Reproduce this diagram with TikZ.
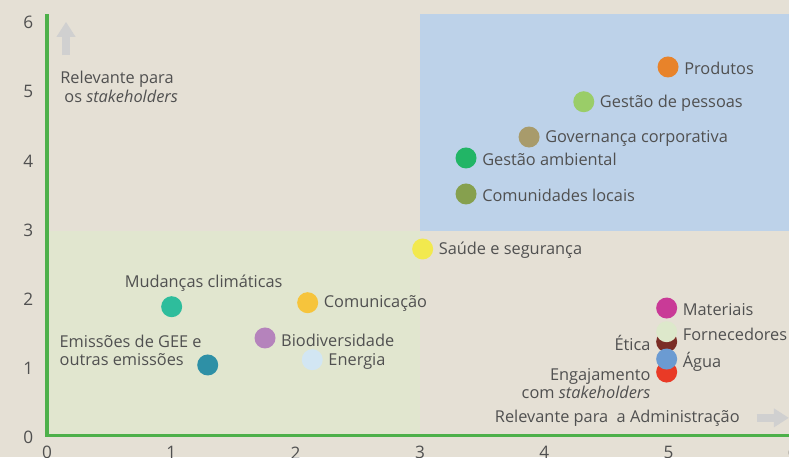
\documentclass[tikz,border=0pt]{standalone}
\usepackage{fontspec}
\setmainfont{Open Sans}
\usetikzlibrary{arrows.meta, positioning}
\definecolor{bgbeige}{HTML}{E5E0D5}
\definecolor{zonegreen}{HTML}{E1E6CF}
\definecolor{zoneblue}{HTML}{BDD2E9}
\definecolor{axisgreen}{HTML}{4DB04A}
\definecolor{hintgray}{HTML}{D0D0D0}
\definecolor{txtgray}{HTML}{505050}
% dot colours
\definecolor{cprod}{HTML}{E8832A}
\definecolor{cgpes}{HTML}{9ACD68}
\definecolor{cgov}{HTML}{A89B6B}
\definecolor{cgamb}{HTML}{22B566}
\definecolor{ccomloc}{HTML}{86A04E}
\definecolor{csaude}{HTML}{F2E94E}
\definecolor{cmat}{HTML}{C93A97}
\definecolor{cetica}{HTML}{7B2D26}
\definecolor{cforn}{HTML}{DDE8CB}
\definecolor{ceng}{HTML}{E93A26}
\definecolor{cagua}{HTML}{6B9BD2}
\definecolor{cmud}{HTML}{2EBD9C}
\definecolor{ccomun}{HTML}{F6C43C}
\definecolor{cbio}{HTML}{B583BC}
\definecolor{cener}{HTML}{D2E6F3}
\definecolor{cemis}{HTML}{2E90A6}
\tikzset{
  dot/.style={
    circle, inner sep=0pt, minimum size=0.42cm
  },
  lbl/.style={
    inner sep=0pt, text=txtgray, font=\fontsize{9.3}{10.3}\selectfont
  },
  ticklbl/.style={
    inner sep=0pt, text=txtgray, font=\fontsize{9.8}{11}\selectfont
  },
  hint/.style={
    -{Triangle[width=0.36cm,length=0.3cm]}, line width=0.15cm, draw=hintgray
  }
}

\begin{document}
\begin{tikzpicture}[x=2.486cm, y=1.384cm]
      % Background and zones
      \fill[bgbeige] (-0.378,-0.318) rectangle (5.969,6.286);
      \useasboundingbox (-0.378,-0.318) rectangle (5.969,6.286);
      \fill[zonegreen] (0,0) rectangle (3,2.95);
      \fill[zoneblue] (3,2.95) rectangle (6.2,6.08);

      % Axes
      \draw[axisgreen, line width=0.08cm] (0,6.08) -- (0,-0.02);
      \draw[axisgreen, line width=0.06cm] (-0.015,0) -- (6.2,0);
      \foreach \k in {0,...,6} {
        \node[ticklbl] (ytick\k) at (-0.15,\k-0.04) {\k};
        \node[ticklbl] (xtick\k) at (\k,-0.257) {\k};
      }

      % Axis hints
      \coordinate (upfrom) at (0.153,5.49);
      \coordinate (upto) at (0.153,5.97);
      \draw[hint] (upfrom) -- (upto);
      \node[lbl, anchor=west, align=left] (stakelbl) at (0.105,5.03)
        {Relevante para\\\hspace*{0.08cm}os \textit{stakeholders}};
      \coordinate (rightfrom) at (5.71,0.248);
      \coordinate (rightto) at (5.968,0.248);
      \draw[hint] (rightfrom) -- (rightto);
      \node[lbl, anchor=east] (admlbl) at (5.575,0.245)
        {Relevante para\ \ a Administração};

      % Upper right
      \node[dot, fill=cprod] (prod) at (4.996,5.318) {};
      \node[lbl, right=0.1cm of prod, yshift=-0.03cm] (prodlbl) {Produtos};
      \node[dot, fill=cgpes] (gpes) at (4.318,4.816) {};
      \node[lbl, right=0.1cm of gpes, yshift=-0.03cm] (gpeslbl) {Gestão de pessoas};
      \node[dot, fill=cgov] (gov) at (3.878,4.306) {};
      \node[lbl, right=0.1cm of gov, yshift=-0.03cm] (govlbl) {Governança corporativa};
      \node[dot, fill=cgamb] (gamb) at (3.371,4.003) {};
      \node[lbl, right=0.1cm of gamb, yshift=-0.03cm] (gamblbl) {Gestão ambiental};
      \node[dot, fill=ccomloc] (comloc) at (3.371,3.483) {};
      \node[lbl, right=0.1cm of comloc, yshift=-0.03cm] (comloclbl) {Comunidades locais};
      \node[dot, fill=csaude] (saude) at (3.022,2.688) {};
      \node[lbl, right=0.1cm of saude, yshift=-0.03cm] (saudelbl) {Saúde e segurança};

      % Lower right
      \node[dot, fill=cmat] (mat) at (4.985,1.835) {};
      \node[lbl, right=0.1cm of mat, yshift=-0.03cm] (matlbl) {Materiais};
      \node[dot, fill=cetica] (etica) at (4.985,1.348) {};
      \node[lbl, left=0.1cm of etica, yshift=-0.03cm] (eticalbl) {Ética};
      \node[dot, fill=cforn] (forn) at (4.985,1.493) {};
      \node[lbl, right=0.1cm of forn, yshift=-0.06cm] (fornlbl) {Fornecedores};
      \node[dot, fill=ceng] (eng) at (4.985,0.910) {};
      \node[lbl, left=0.1cm of eng, yshift=-0.23cm, align=right] (englbl)
        {Engajamento\\com \textit{stakeholders}};
      \node[dot, fill=cagua] (agua) at (4.985,1.098) {};
      \node[lbl, right=0.1cm of agua, yshift=-0.05cm] (agualbl) {Água};

      % Lower left
      \node[dot, fill=cmud] (mud) at (1.003,1.854) {};
      \node[lbl, above=0.08cm of mud, xshift=0.64cm] (mudlbl) {Mudanças climáticas};
      \node[dot, fill=ccomun] (comun) at (2.097,1.912) {};
      \node[lbl, right=0.1cm of comun, yshift=-0.02cm] (comunlbl) {Comunicação};
      \node[dot, fill=cbio] (bio) at (1.754,1.402) {};
      \node[lbl, right=0.1cm of bio, yshift=-0.05cm] (biolbl) {Biodiversidade};
      \node[dot, fill=cener] (ener) at (2.134,1.088) {};
      \node[lbl, right=0.1cm of ener, yshift=-0.04cm] (enerlbl) {Energia};
      \node[dot, fill=cemis] (emis) at (1.293,1.012) {};
      \node[lbl, anchor=west, align=left] (emislbl) at (0.099,1.228)
        {Emissões de GEE e\\outras emissões};
    \end{tikzpicture}
\end{document}
